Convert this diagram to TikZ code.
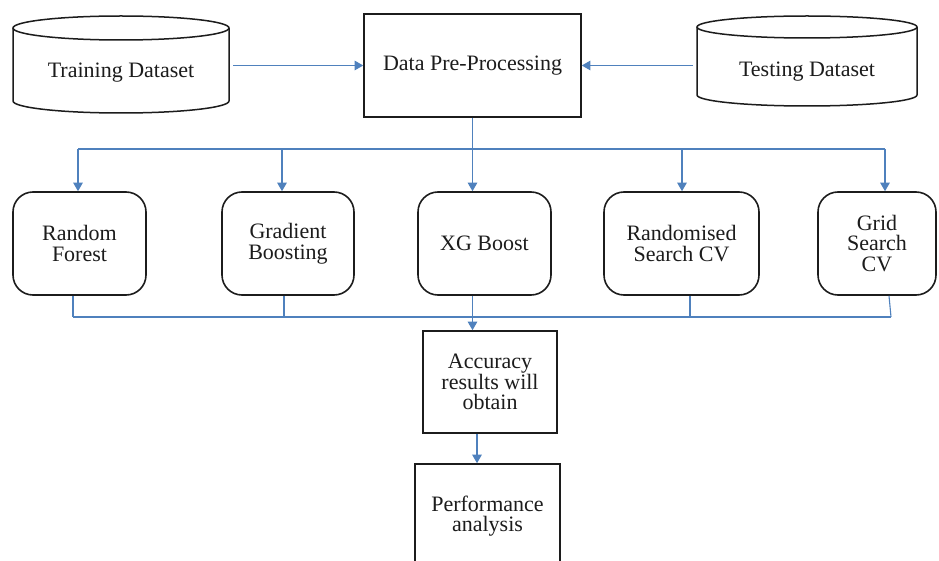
\documentclass[tikz,border=0pt]{standalone}
\usepackage{fontspec}
\setmainfont{Liberation Serif}
\usetikzlibrary{arrows.meta}
\definecolor{linkblue}{RGB}{79,129,189}
\definecolor{ink}{RGB}{28,28,28}

\begin{document}
\begin{tikzpicture}[x=1pt,y=-1pt,
  every node/.style={font=\fontsize{22}{20.5}\selectfont, text=ink, align=center},
  plainbox/.style={draw=ink, line width=1.6pt, rectangle, inner sep=0pt},
  algbox/.style={plainbox, rounded corners=20pt, minimum height=103pt},
  dbspot/.style={rectangle, inner sep=0pt},
  cyl/.style={draw=ink, line width=1.5pt},
  conn/.style={draw=linkblue, line width=1.1pt},
  arr/.style={conn, -{Triangle[length=8.5pt,width=9.5pt]}}]

\clip (0,0) rectangle (939,561);
\fill[white] (0,0) rectangle (939,561);

% data sources (cylinders)
\node[dbspot, minimum width=216pt, minimum height=97pt] (train) at (121,64.5)
  {\raisebox{-13.5pt}[0pt][0pt]{Training Dataset}};
\draw[cyl] (121,28) ellipse [x radius=108pt, y radius=12pt];
\draw[cyl] (13,28) -- (13,101) arc[start angle=180, end angle=360, x radius=108pt, y radius=12pt] -- (229,28);

\node[dbspot, minimum width=220pt, minimum height=90pt] (test) at (807,61)
  {\raisebox{-16pt}[0pt][0pt]{Testing Dataset}};
\draw[cyl] (807,27) ellipse [x radius=110pt, y radius=11pt];
\draw[cyl] (697,27) -- (697,95) arc[start angle=180, end angle=360, x radius=110pt, y radius=11pt] -- (917,27);

% pre-processing
\node[plainbox, minimum width=217pt, minimum height=103pt] (data) at (472.5,65.5) {Data Pre-Processing};

% models
\node[algbox, minimum width=133pt] (rf) at (79.5,243.5) {Random\\Forest};
\node[algbox, minimum width=132pt] (gb) at (288,243.5) {Gradient\\Boosting};
\node[algbox, minimum width=133pt] (xg) at (484.5,243.5) {XG Boost};
\node[algbox, minimum width=155pt] (rs) at (681.5,243.5) {Randomised\\Search CV};
\node[algbox, minimum width=118pt] (gs) at (877,243.5) {Grid\\Search\\CV};

% results
\node[plainbox, minimum width=134pt, minimum height=102pt] (acc) at (490,382) {Accuracy\\results will\\obtain};
\node[plainbox, minimum width=145pt, minimum height=104pt] (perf) at (487.5,516) {Performance\\analysis};

% bus lines
\coordinate (topbus) at (0,149);
\coordinate (lowbus) at (0,317);

% inputs into pre-processing
\draw[arr, shorten <=4pt] (train.east |- data.west) -- (data.west);
\draw[arr, shorten <=4pt] (test.west |- data.east) -- (data.east);

% fan-out to the models
\draw[conn] ([xshift=-1.5pt]rf.north |- topbus) -- ([xshift=8pt]gs.north |- topbus);
\draw[arr] (data.south) -- (data.south |- xg.north);
\draw[arr] ([xshift=-1.5pt]rf.north |- topbus) -- ([xshift=-1.5pt]rf.north);
\draw[arr] ([xshift=-6pt]gb.north |- topbus) -- ([xshift=-6pt]gb.north);
\draw[arr] ([xshift=0.5pt]rs.north |- topbus) -- ([xshift=0.5pt]rs.north);
\draw[arr] ([xshift=8pt]gs.north |- topbus) -- ([xshift=8pt]gs.north);

% fan-in to the accuracy step
\draw[conn] ([xshift=-6.5pt]rf.south |- lowbus) -- ([xshift=14pt]gs.south |- lowbus);
\draw[conn] ([xshift=-6.5pt]rf.south) -- ([xshift=-6.5pt]rf.south |- lowbus);
\draw[conn] ([xshift=-4pt]gb.south) -- ([xshift=-4pt]gb.south |- lowbus);
\draw[conn] ([xshift=8.5pt]rs.south) -- ([xshift=8.5pt]rs.south |- lowbus);
\draw[conn] ([xshift=12pt]gs.south) -- ([xshift=14pt]gs.south |- lowbus);
\draw[arr] (data.south |- xg.south) -- (data.south |- acc.north);

% accuracy to analysis
\draw[arr] ([xshift=-13pt]acc.south) -- ([xshift=-13pt]acc.south |- perf.north);
\end{tikzpicture}
\end{document}
